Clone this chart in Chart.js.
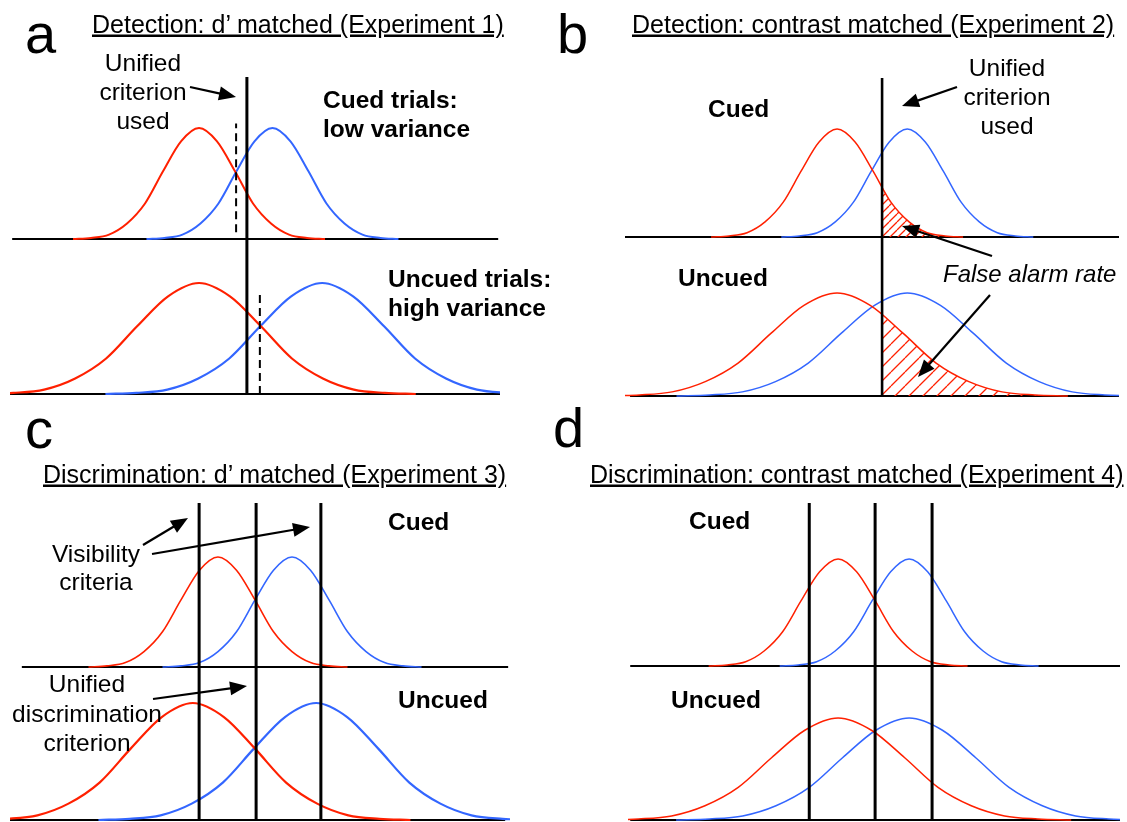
<!DOCTYPE html>
<html>
<head>
<meta charset="utf-8">
<script src="https://cdn.jsdelivr.net/npm/chart.js@4.4.1/dist/chart.umd.min.js"></script>
<style>
  html, body { margin: 0; padding: 0; background: #fff; }
  #page { position: relative; width: 1127px; height: 822px; overflow: hidden; background: #fff; }
  #page canvas { position: absolute; }
  #labels { position: absolute; left: 0; top: 0; }
  #labels text { font-family: "Liberation Sans", Arial, sans-serif; fill: #000; }
</style>
</head>
<body>
<div id="page">
  <canvas id="panelA"></canvas>
  <canvas id="panelB"></canvas>
  <canvas id="panelC"></canvas>
  <canvas id="panelD"></canvas>
  <svg id="labels" width="1127" height="822" xmlns="http://www.w3.org/2000/svg"></svg>
</div>
<script>
const RED = '#ff2000';
const BLUE = '#3366ff';

// x is the internal response in units of the cued noise s.d.,
// y is the curve height relative to its own peak.
const bellHeights = [0, 0.01, 0.04, 0.14, 0.32, 0.61, 0.88, 1, 0.88, 0.61, 0.32, 0.14, 0.04, 0.01, 0];

// a: detection, d' matched
const aCuedNoiseX    = [-3.5, -3, -2.5, -2, -1.5, -1, -0.5, 0, 0.5, 1, 1.5, 2, 2.5, 3, 3.5];
const aCuedSignalX   = [-1.46, -0.96, -0.46, 0.04, 0.54, 1.04, 1.54, 2.04, 2.54, 3.04, 3.54, 4.04, 4.54, 5.04, 5.54];
const aUncuedNoiseX  = [-6.02, -5.16, -4.3, -3.44, -2.58, -1.72, -0.86, 0, 0.86, 1.72, 2.58, 3.44, 4.3, 5.16, 6.02];
const aUncuedSignalX = [-2.6, -1.74, -0.88, -0.02, 0.84, 1.7, 2.56, 3.42, 4.28, 5.14, 6.0, 6.86, 7.72, 8.58, 9.44];
const aUnifiedCriterion = 1.33;
const aCuedOptimal = 1.03;
const aUncuedOptimal = 1.69;
const aCuedDashY = [0.06, 1.04];
const aUncuedDashY = [0, 0.92];

// b: detection, contrast matched
const bCuedNoiseX    = [-3.5, -3, -2.5, -2, -1.5, -1, -0.5, 0, 0.5, 1, 1.5, 2, 2.5, 3, 3.5];
const bCuedSignalX   = [-1.55, -1.05, -0.55, -0.05, 0.45, 0.95, 1.45, 1.95, 2.45, 2.95, 3.45, 3.95, 4.45, 4.95, 5.45];
const bUncuedNoiseX  = [-6.41, -5.49, -4.58, -3.66, -2.75, -1.83, -0.92, 0, 0.92, 1.83, 2.75, 3.66, 4.58, 5.49, 6.41];
const bUncuedSignalX = [-4.46, -3.54, -2.63, -1.71, -0.8, 0.12, 1.04, 1.95, 2.87, 3.78, 4.7, 5.61, 6.53, 7.44, 8.36];
const bCriterion = 1.25;
const bCuedFalseAlarmX   = [1.25, 1.5, 2, 2.5, 3, 3.5];
const bCuedFalseAlarmY   = [0.46, 0.32, 0.14, 0.04, 0.01, 0];
const bUncuedFalseAlarmX = [1.25, 1.83, 2.75, 3.66, 4.58, 5.49, 6.41];
const bUncuedFalseAlarmY = [0.79, 0.61, 0.32, 0.14, 0.04, 0.01, 0];

// c: discrimination, d' matched
const cCuedNoiseX    = [-3.5, -3, -2.5, -2, -1.5, -1, -0.5, 0, 0.5, 1, 1.5, 2, 2.5, 3, 3.5];
const cCuedSignalX   = [-1.5, -1, -0.5, 0, 0.5, 1, 1.5, 2, 2.5, 3, 3.5, 4, 4.5, 5, 5.5];
const cUncuedNoiseX  = [-6.56, -5.72, -4.88, -4.04, -3.2, -2.36, -1.52, -0.68, 0.16, 1.0, 1.84, 2.68, 3.52, 4.36, 5.2];
const cUncuedSignalX = [-3.23, -2.39, -1.55, -0.71, 0.13, 0.97, 1.81, 2.65, 3.49, 4.33, 5.17, 6.01, 6.85, 7.69, 8.53];
const cCriteria = [-0.51, 1.03, 2.78];

// d: discrimination, contrast matched
const dCuedNoiseX    = [-3.5, -3, -2.5, -2, -1.5, -1, -0.5, 0, 0.5, 1, 1.5, 2, 2.5, 3, 3.5];
const dCuedSignalX   = [-1.58, -1.08, -0.58, -0.08, 0.42, 0.92, 1.42, 1.92, 2.42, 2.92, 3.42, 3.92, 4.42, 4.92, 5.42];
const dUncuedNoiseX  = [-6.3, -5.4, -4.5, -3.6, -2.7, -1.8, -0.9, 0, 0.9, 1.8, 2.7, 3.6, 4.5, 5.4, 6.3];
const dUncuedSignalX = [-4.38, -3.48, -2.58, -1.68, -0.78, 0.12, 1.02, 1.92, 2.82, 3.72, 4.62, 5.52, 6.42, 7.32, 8.22];
const dCriteria = [-0.78, 1.0, 2.54];

// y range for one strip so that 0 sits on its baseline and 1 on its peak
const stripRange = (box, base, peak) => {
    const unit = 1 / (base - peak);
    return { min: -(box.top + box.height - base) * unit, max: (base - box.top) * unit };
};

const hatchPattern = (step) => {
    const c = document.createElement('canvas');
    c.width = step;
    c.height = step;
    const g = c.getContext('2d');
    g.strokeStyle = RED;
    g.lineWidth = 1.3;
    g.beginPath();
    for (const o of [-step, 0, step]) {
        g.moveTo(o, step);
        g.lineTo(o + step, 0);
    }
    g.stroke();
    return g.createPattern(c, 'repeat');
};

const curve = (xs, ys, axis, color, width) => ({
    data: xs.map((x, i) => ({ x, y: ys[i] })),
    yAxisID: axis,
    borderColor: color,
    borderWidth: width,
    pointRadius: 0,
    fill: false,
    cubicInterpolationMode: 'monotone',
    clip: false,
});

const criterion = (x, ys, axis, width, dash) => ({
    data: ys.map((y) => ({ x, y })),
    yAxisID: axis,
    borderColor: '#000',
    borderWidth: width,
    borderDash: dash || [],
    borderCapStyle: 'butt',
    pointRadius: 0,
    fill: false,
    tension: 0,
    clip: false,
});

const hatched = (xs, ys, axis, step) => ({
    data: xs.map((x, i) => ({ x, y: ys[i] })),
    yAxisID: axis,
    borderColor: 'rgba(0,0,0,0)',
    borderWidth: 1,
    pointRadius: 0,
    fill: 'origin',
    backgroundColor: hatchPattern(step),
    cubicInterpolationMode: 'monotone',
});

// horizontal axis line under each strip
const axisLines = (lines) => ({
    id: 'axisLines',
    beforeDatasetsDraw(chart) {
        const { ctx } = chart;
        const x = chart.scales.x;
        ctx.save();
        ctx.strokeStyle = '#000';
        ctx.lineWidth = 2;
        for (const l of lines) {
            const y = Math.round(chart.scales[l.axis].getPixelForValue(0));
            ctx.beginPath();
            ctx.moveTo(x.getPixelForValue(l.from), y);
            ctx.lineTo(x.getPixelForValue(l.to), y);
            ctx.stroke();
        }
        ctx.restore();
    },
});

const drawPanel = (id, box, xRange, strips, datasets, lines) => {
    const canvas = document.getElementById(id);
    canvas.width = box.width;
    canvas.height = box.height;
    canvas.style.left = box.left + 'px';
    canvas.style.top = box.top + 'px';
    new Chart(canvas, {
        type: 'line',
        data: { datasets },
        options: {
            responsive: false,
            maintainAspectRatio: false,
            animation: false,
            events: [],
            layout: { padding: 0 },
            plugins: { legend: { display: false }, tooltip: { enabled: false } },
            scales: {
                x: { type: 'linear', display: false, min: xRange[0], max: xRange[1] },
                yTop: { type: 'linear', display: false, ...strips.top },
                yBot: { type: 'linear', display: false, ...strips.bot },
            },
        },
        plugins: [axisLines(lines)],
    });
};

// panel a
{
    const box = { left: 10, top: 77, width: 490, height: 324 };
    const strips = { top: stripRange(box, 239, 128), bot: stripRange(box, 394, 283) };
    drawPanel('panelA', box, [-5.25, 8.36], strips, [
        criterion(aUnifiedCriterion, [0, strips.bot.max], 'yBot', 3),
        criterion(aCuedOptimal, aCuedDashY, 'yTop', 2, [8, 5]),
        criterion(aUncuedOptimal, aUncuedDashY, 'yBot', 2, [8, 5]),
        curve(aCuedNoiseX, bellHeights, 'yTop', RED, 2),
        curve(aCuedSignalX, bellHeights, 'yTop', BLUE, 2),
        curve(aUncuedNoiseX, bellHeights, 'yBot', RED, 2.2),
        curve(aUncuedSignalX, bellHeights, 'yBot', BLUE, 2.2),
    ], [
        { axis: 'yTop', from: -5.19, to: 8.31 },
        { axis: 'yBot', from: -5.25, to: 8.36 },
    ]);
}

// panel b
{
    const box = { left: 625, top: 78, width: 494, height: 323 };
    const strips = { top: stripRange(box, 237, 129), bot: stripRange(box, 396, 293) };
    drawPanel('panelB', box, [-5.89, 7.83], strips, [
        criterion(bCriterion, [0, strips.bot.max], 'yBot', 2.6),
        curve(bCuedNoiseX, bellHeights, 'yTop', RED, 1.5),
        curve(bCuedSignalX, bellHeights, 'yTop', BLUE, 1.5),
        curve(bUncuedNoiseX, bellHeights, 'yBot', RED, 1.5),
        curve(bUncuedSignalX, bellHeights, 'yBot', BLUE, 1.5),
        hatched(bCuedFalseAlarmX, bCuedFalseAlarmY, 'yTop', 8),
        hatched(bUncuedFalseAlarmX, bUncuedFalseAlarmY, 'yBot', 14),
    ], [
        { axis: 'yTop', from: -5.89, to: 7.83 },
        { axis: 'yBot', from: -5.75, to: 7.83 },
    ]);
}

// panel c
{
    const box = { left: 10, top: 503, width: 500, height: 319 };
    const strips = { top: stripRange(box, 667, 557), bot: stripRange(box, 820, 703) };
    drawPanel('panelC', box, [-5.62, 7.89], strips, [
        ...cCriteria.map((c) => criterion(c, [0, strips.bot.max], 'yBot', 3)),
        curve(cCuedNoiseX, bellHeights, 'yTop', RED, 1.6),
        curve(cCuedSignalX, bellHeights, 'yTop', BLUE, 1.6),
        curve(cUncuedNoiseX, bellHeights, 'yBot', RED, 2.2),
        curve(cUncuedSignalX, bellHeights, 'yBot', BLUE, 2.2),
    ], [
        { axis: 'yTop', from: -5.3, to: 7.84 },
        { axis: 'yBot', from: -5.62, to: 7.76 },
    ]);
}

// panel d
{
    const box = { left: 628, top: 503, width: 492, height: 319 };
    const strips = { top: stripRange(box, 666, 559), bot: stripRange(box, 820, 718) };
    drawPanel('panelD', box, [-5.68, 7.62], strips, [
        ...dCriteria.map((c) => criterion(c, [0, strips.bot.max], 'yBot', 3)),
        curve(dCuedNoiseX, bellHeights, 'yTop', RED, 1.5),
        curve(dCuedSignalX, bellHeights, 'yTop', BLUE, 1.5),
        curve(dUncuedNoiseX, bellHeights, 'yBot', RED, 1.5),
        curve(dUncuedSignalX, bellHeights, 'yBot', BLUE, 1.5),
    ], [
        { axis: 'yTop', from: -5.62, to: 7.62 },
        { axis: 'yBot', from: -5.62, to: 7.62 },
    ]);
}

// text and arrows
const svg = document.getElementById('labels');
const NS = 'http://www.w3.org/2000/svg';

const label = (x, y, str, opts = {}) => {
    const t = document.createElementNS(NS, 'text');
    t.setAttribute('x', x);
    t.setAttribute('y', y);
    t.setAttribute('font-size', opts.size || 24.5);
    if (opts.anchor) t.setAttribute('text-anchor', opts.anchor);
    if (opts.bold) t.setAttribute('font-weight', 'bold');
    if (opts.italic) t.setAttribute('font-style', 'italic');
    if (opts.underline) t.setAttribute('text-decoration', 'underline');
    t.textContent = str;
    svg.appendChild(t);
};

const arrow = (from, to) => {
    const [x1, y1] = from;
    const [x2, y2] = to;
    const len = Math.hypot(x2 - x1, y2 - y1);
    const ux = (x2 - x1) / len;
    const uy = (y2 - y1) / len;
    const headLen = 17;
    const headHalf = 7;
    const bx = x2 - ux * headLen;
    const by = y2 - uy * headLen;
    const line = document.createElementNS(NS, 'line');
    line.setAttribute('x1', x1);
    line.setAttribute('y1', y1);
    line.setAttribute('x2', bx + ux * 2);
    line.setAttribute('y2', by + uy * 2);
    line.setAttribute('stroke', '#000');
    line.setAttribute('stroke-width', 2.2);
    svg.appendChild(line);
    const head = document.createElementNS(NS, 'polygon');
    head.setAttribute('points', [
        [x2, y2],
        [bx - uy * headHalf, by + ux * headHalf],
        [bx + uy * headHalf, by - ux * headHalf],
    ].map((p) => p.join(',')).join(' '));
    head.setAttribute('fill', '#000');
    svg.appendChild(head);
};

// panel letters
label(25, 52.5, 'a', { size: 56 });
label(557, 53, 'b', { size: 56 });
label(25, 447.5, 'c', { size: 56 });
label(553, 447, 'd', { size: 56 });

// titles
label(92, 32.5, 'Detection: d’ matched (Experiment 1)', { size: 25, underline: true });
label(632, 32.5, 'Detection: contrast matched (Experiment 2)', { size: 25, underline: true });
label(43, 482.5, 'Discrimination: d’ matched (Experiment 3)', { size: 25, underline: true });
label(590, 482.5, 'Discrimination: contrast matched (Experiment 4)', { size: 25, underline: true });

// a
label(143, 71, 'Unified', { anchor: 'middle' });
label(143, 100, 'criterion', { anchor: 'middle' });
label(143, 129, 'used', { anchor: 'middle' });
label(323, 108, 'Cued trials:', { bold: true });
label(323, 137, 'low variance', { bold: true });
label(388, 287, 'Uncued trials:', { bold: true });
label(388, 316, 'high variance', { bold: true });
arrow([190, 87], [236, 97]);

// b
label(708, 117, 'Cued', { bold: true });
label(1007, 76, 'Unified', { anchor: 'middle' });
label(1007, 105, 'criterion', { anchor: 'middle' });
label(1007, 134, 'used', { anchor: 'middle' });
label(678, 286, 'Uncued', { bold: true });
label(943, 282, 'False alarm rate', { italic: true, size: 24 });
arrow([957, 87], [902, 106]);
arrow([992, 256], [902, 226]);
arrow([990, 295], [918, 377]);

// c
label(388, 530, 'Cued', { bold: true });
label(96, 562, 'Visibility', { anchor: 'middle' });
label(96, 590, 'criteria', { anchor: 'middle' });
label(87, 692, 'Unified', { anchor: 'middle' });
label(87, 721.5, 'discrimination', { anchor: 'middle' });
label(87, 750.5, 'criterion', { anchor: 'middle' });
label(398, 708, 'Uncued', { bold: true });
arrow([143, 545], [188, 518]);
arrow([152, 554], [310, 527]);
arrow([153, 699], [247, 686]);

// d
label(689, 529, 'Cued', { bold: true });
label(671, 708, 'Uncued', { bold: true });
</script>
</body>
</html>
